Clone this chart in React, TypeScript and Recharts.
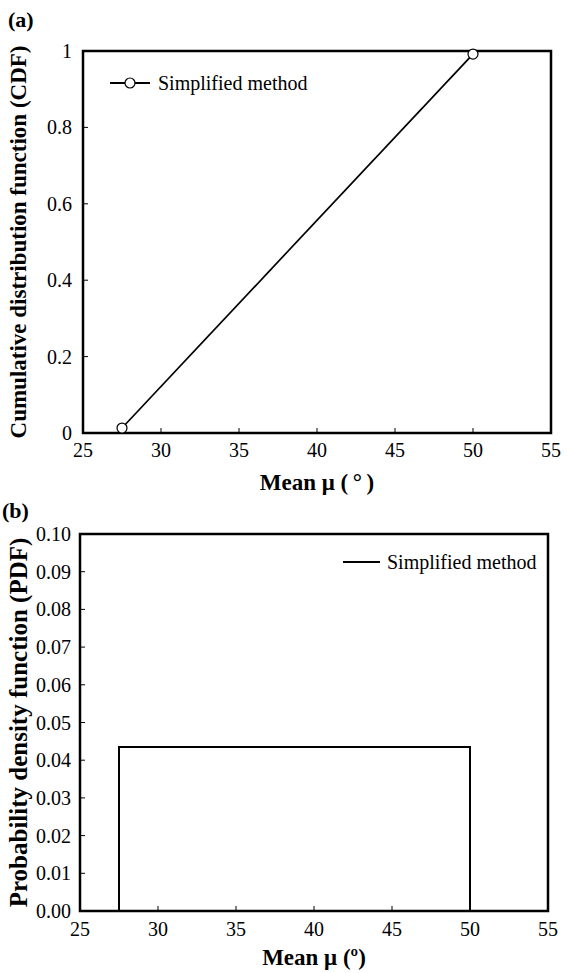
import React from 'react';
import { LineChart, Line, XAxis, YAxis, ReferenceArea, Legend } from 'recharts';

// panel (a): CDF of the mean friction angle
const meanA = [27.5, 50];
const cdfA = [0.013, 0.992];
// panel (b): uniform PDF drawn as a box
const meanB = [27.5, 27.5, 50, 50];
const pdfB = [0, 0.0435, 0.0435, 0];

const xTicks = [25, 30, 35, 40, 45, 50, 55];
const cdfTicks = [0, 0.2, 0.4, 0.6, 0.8, 1];
const pdfTicks = [0, 0.01, 0.02, 0.03, 0.04, 0.05, 0.06, 0.07, 0.08, 0.09, 0.1];

const dataA = meanA.map((m, i) => ({ mean: m, cdf: cdfA[i] }));
const dataB = meanB.map((m, i) => ({ mean: m, pdf: pdfB[i] }));

const FONT = 'Liberation Serif, DejaVu Serif, serif';

const xTick = (axisY: number, gap: number) => (props: any) => {
  const { x, payload } = props;
  return (
    <g>
      <line x1={x} y1={axisY} x2={x} y2={axisY - 5} stroke="#000" strokeWidth={1} />
      <text x={x} y={axisY + gap} textAnchor="middle" style={{ fontFamily: FONT, fontSize: 20 }} fill="#000">
        {payload.value}
      </text>
    </g>
  );
};

const yTick = (axisX: number, gap: number, fmt: (v: number) => string) => (props: any) => {
  const { y, payload } = props;
  return (
    <g>
      <line x1={axisX} y1={y} x2={axisX + 5} y2={y} stroke="#000" strokeWidth={1} />
      <text x={axisX - gap} y={y + 7} textAnchor="end" style={{ fontFamily: FONT, fontSize: 20 }} fill="#000">
        {fmt(payload.value)}
      </text>
    </g>
  );
};

const LegendA = () => (
  <svg width={230} height={30}>
    <line x1={5} y1={15} x2={45} y2={15} stroke="#000" strokeWidth={2} />
    <circle cx={25} cy={15} r={5} fill="#fff" stroke="#000" strokeWidth={1.2} />
    <text x={53} y={22} style={{ fontFamily: FONT, fontSize: 20 }} fill="#000">Simplified method</text>
  </svg>
);

const LegendB = () => (
  <svg width={230} height={30}>
    <line x1={5} y1={15} x2={42} y2={15} stroke="#000" strokeWidth={2} />
    <text x={49} y={22} style={{ fontFamily: FONT, fontSize: 20 }} fill="#000">Simplified method</text>
  </svg>
);

const titleStyle = { fontFamily: FONT, fontSize: 23, fontWeight: 'bold' as const, fill: '#000' };

export default function App() {
  return (
    <div style={{ position: 'absolute', left: 0, top: 0, width: 567, height: 973, background: '#fff', fontFamily: FONT }}>
      <div style={{ position: 'absolute', left: 8, top: 9, fontSize: 22, fontWeight: 'bold', lineHeight: '22px' }}>(a)</div>
      <div style={{ position: 'absolute', left: 2, top: 500, fontSize: 22, fontWeight: 'bold', lineHeight: '22px' }}>(b)</div>

      <div style={{ position: 'absolute', left: 0, top: 0 }}>
        <LineChart width={567} height={500} data={dataA} margin={{ top: 51, right: 16, bottom: 0, left: 0 }}>
          <XAxis
            dataKey="mean"
            type="number"
            domain={[25, 55]}
            ticks={xTicks}
            interval={0}
            height={67}
            axisLine={false}
            tickLine={false}
            tickSize={0}
            tickMargin={0}
            tick={xTick(433, 24)}
            label={{ value: 'Mean μ (\u2009°\u2009)', position: 'insideBottom', offset: 10, style: titleStyle }}
          />
          <YAxis
            type="number"
            domain={[0, 1]}
            ticks={cdfTicks}
            interval={0}
            width={83}
            axisLine={false}
            tickLine={false}
            tickSize={0}
            tickMargin={0}
            tick={yTick(83, 11, (v) => String(v))}
            label={{ value: 'Cumulative distribution function (CDF)', angle: -90, position: 'insideLeft', offset: 18, style: { ...titleStyle, textAnchor: 'middle' } }}
          />
          <ReferenceArea x1={25} x2={55} y1={0} y2={1} fill="none" stroke="#000" strokeWidth={2.5} ifOverflow="visible" />
          <Legend
            layout="horizontal"
            verticalAlign="middle"
            align="center"
            content={() => <LegendA />}
            wrapperStyle={{ left: 105, top: 68, width: 230, height: 30 }}
          />
          <Line
            dataKey="cdf"
            type="linear"
            stroke="#000"
            strokeWidth={1.7}
            dot={{ r: 5, fill: '#fff', stroke: '#000', strokeWidth: 1.2 }}
            isAnimationActive={false}
          />
        </LineChart>
      </div>

      <div style={{ position: 'absolute', left: 0, top: 480 }}>
        <LineChart width={567} height={493} data={dataB} margin={{ top: 54, right: 19, bottom: 0, left: 0 }}>
          <XAxis
            dataKey="mean"
            type="number"
            domain={[25, 55]}
            ticks={xTicks}
            interval={0}
            height={62}
            axisLine={false}
            tickLine={false}
            tickSize={0}
            tickMargin={0}
            tick={xTick(431, 25)}
            label={{ value: 'Mean μ (º)', position: 'insideBottom', offset: 8, style: titleStyle }}
          />
          <YAxis
            type="number"
            domain={[0, 0.1]}
            ticks={pdfTicks}
            interval={0}
            width={80}
            axisLine={false}
            tickLine={false}
            tickSize={0}
            tickMargin={0}
            tick={yTick(80, 9, (v) => v.toFixed(2))}
            label={{ value: 'Probability density function (PDF)', angle: -90, position: 'insideLeft', offset: 18, style: { ...titleStyle, fontSize: 25, textAnchor: 'middle' } }}
          />
          <ReferenceArea x1={25} x2={55} y1={0} y2={0.1} fill="none" stroke="#000" strokeWidth={2.5} ifOverflow="visible" />
          <Legend
            layout="horizontal"
            verticalAlign="middle"
            align="center"
            content={() => <LegendB />}
            wrapperStyle={{ left: 338, top: 67, width: 230, height: 30 }}
          />
          <Line
            dataKey="pdf"
            type="linear"
            stroke="#000"
            strokeWidth={2}
            dot={false}
            isAnimationActive={false}
          />
        </LineChart>
      </div>
    </div>
  );
}
